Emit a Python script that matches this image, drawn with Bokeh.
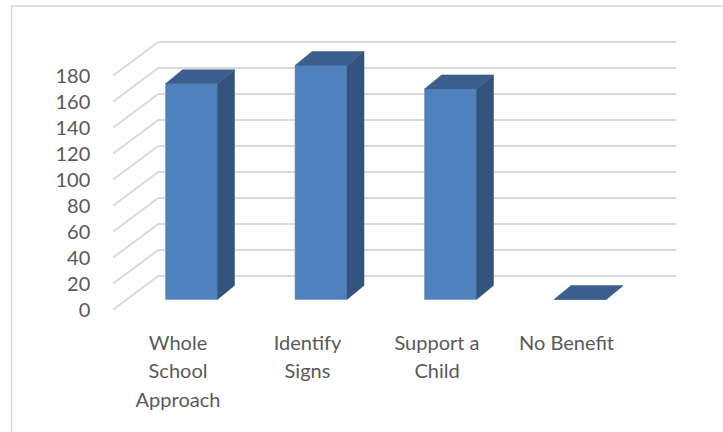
from bokeh.plotting import figure
from bokeh.models import Range1d, ColumnDataSource
from bokeh.core.properties import value
from bokeh.embed import file_html
from bokeh.resources import INLINE

# ---- data ----
categories = ["Whole School Approach", "Identify Signs", "Support a Child", "No Benefit"]
cat_labels = ["Whole\nSchool\nApproach", "Identify\nSigns", "Support a\nChild", "No Benefit"]
values = [166, 180, 162, 0]
y_ticks = [0, 20, 40, 60, 80, 100, 120, 140, 160, 180]

# ---- geometry / style constants (pixels -> data units) ----
W, H = 723, 432
PX_PER_CAT = 129.5
PX_PER_VAL = 1.3
X0_PX = 177.5   # pixel of category 0 centre (front plane)
Y0_PX = 309.0   # pixel of value 0 (front plane)

def xd(px):
    return (px - X0_PX) / PX_PER_CAT

def yd(py):
    return (Y0_PX - py) / PX_PER_VAL

WALL_DX = 45 / PX_PER_CAT       # depth offset of the 3D box
WALL_DY = 33.5 / PX_PER_VAL
BAR_W = 52 / PX_PER_CAT
BAR_FX = 13.5 / PX_PER_CAT      # bar front plane offset from box front
BAR_FY = 10 / PX_PER_VAL
BAR_DX = 17 / PX_PER_CAT        # bar depth
BAR_DY = 14 / PX_PER_VAL

FRONT = "#4f81bd"
SIDE = "#32537b"
TOP = "#3b5f8d"
GRID = "#d9d9d9"
TXT = "#595959"
FONT = value("Lato")

p = figure(width=W, height=H, output_backend="svg", toolbar_location=None,
           x_range=Range1d(xd(0), xd(W)), y_range=Range1d(yd(H), yd(0)),
           x_axis_location=None, y_axis_location=None, min_border=0)
p.outline_line_color = None
p.grid.visible = False
p.background_fill_color = "white"
p.border_fill_color = "white"

# outer chart border
p.patch([xd(11), xd(730), xd(730), xd(11)], [yd(5.5), yd(5.5), yd(440), yd(440)],
        fill_color=None, line_color=GRID, line_width=1.5)

left = -0.5
right = len(categories) - 0.5

# back wall gridlines
p.segment(x0=[left + WALL_DX] * len(y_ticks), y0=[v + WALL_DY for v in y_ticks],
          x1=[right + WALL_DX] * len(y_ticks), y1=[v + WALL_DY for v in y_ticks],
          line_color=GRID, line_width=2)
# side wall diagonals
p.segment(x0=[left] * len(y_ticks), y0=y_ticks,
          x1=[left + WALL_DX] * len(y_ticks), y1=[v + WALL_DY for v in y_ticks],
          line_color=GRID, line_width=2)

# bars
fx, fy, sx, sy, tx, ty = [], [], [], [], [], []
for i, v in enumerate(values):
    l = i - BAR_W / 2 + BAR_FX
    r = i + BAR_W / 2 + BAR_FX
    b = BAR_FY
    t = v + BAR_FY
    fx.append([l, r, r, l]); fy.append([b, b, t, t])
    sx.append([r, r + BAR_DX, r + BAR_DX, r]); sy.append([b, b + BAR_DY, t + BAR_DY, t])
    tx.append([l, r, r + BAR_DX, l + BAR_DX]); ty.append([t, t, t + BAR_DY, t + BAR_DY])

p.patches(fx, fy, fill_color=FRONT, line_color="#6e95cc", line_width=0.6)
p.patches(sx, sy, fill_color=SIDE, line_color=SIDE, line_width=0.5)
p.patches(tx, ty, fill_color=TOP, line_color=TOP, line_width=0.5)

# y tick labels (front plane)
p.text(x=[left] * len(y_ticks), y=y_ticks, text=[str(v) for v in y_ticks],
       x_offset=-23, text_align="right", text_baseline="middle",
       text_font=FONT, text_font_size="20px", text_color=TXT)

# category labels
lx, ly, lt, lo = [], [], [], []
for i, lab in enumerate(cat_labels):
    for k, line in enumerate(lab.split("\n")):
        lx.append(i); ly.append(0); lt.append(line); lo.append(32 + 28.5 * k)
src = ColumnDataSource(dict(x=lx, y=ly, text=lt, yo=lo))
p.text(x="x", y="y", text="text", y_offset="yo", source=src,
       text_align="center", text_baseline="middle",
       text_font=FONT, text_font_size="20px", text_color=TXT)

open("out.html", "w").write(file_html(p, INLINE))
